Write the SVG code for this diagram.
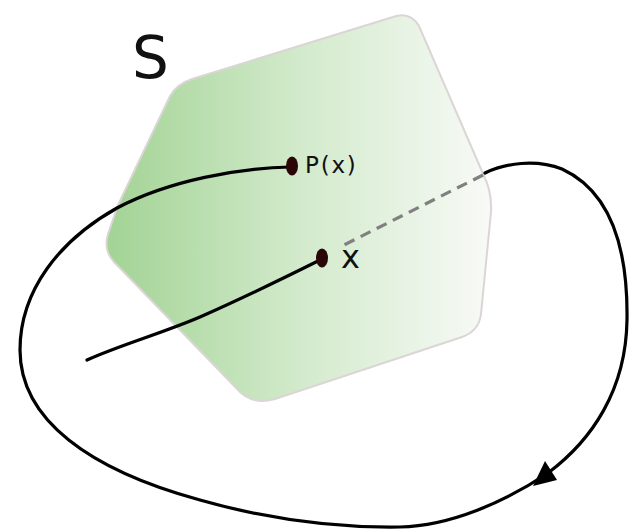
<svg xmlns="http://www.w3.org/2000/svg" width="629" height="532" viewBox="0 0 629 532">
<defs>
<linearGradient id="g" x1="106" y1="0" x2="492" y2="0" gradientUnits="userSpaceOnUse">
<stop offset="0" stop-color="#a2d394"/>
<stop offset="0.5" stop-color="#d2eacb"/>
<stop offset="1" stop-color="#f8faf7"/>
</linearGradient>
<style>
.curve{fill:none;stroke:#000;stroke-width:3.2;stroke-linecap:round}
.dash{fill:none;stroke:#808080;stroke-width:3.2;stroke-dasharray:11 7}
.dot{fill:#2b0606}
.lbl{font-family:"DejaVu Sans","Liberation Sans",sans-serif;fill:#111}
</style>
</defs>
<rect width="629" height="532" fill="#fff"/>
<g id="S">
<path d="M 118 205 L 170 96 Q 177 84 192 79 L 393 17 Q 410 11 419 26 L 484 176 Q 492 192 491 212 L 481 314 Q 479 331 462 337 L 275 399 Q 254 405 240 392 L 114 262 Q 103 250 108 234 Z" fill="url(#g)" stroke="#dcd5d5" stroke-width="2"/>
<text class="lbl" x="132" y="78" font-size="58">S</text>
</g>
<g id="connectors">
<path class="curve" d="M 290 167 C 240 168 170 180 117 208 C 60 240 20 290 20 350 C 20 420 90 470 200 500 C 260 517 330 528 400 527 C 450 526 505 502 548 473 C 592 440 626 390 627 320 C 628 250 612 192 562 169 C 536 159 505 163 485 173"/>
<path class="dash" d="M 483 175 L 340 247"/>
<path class="curve" d="M 320 260 C 280 280 245 297 200 317 C 160 334 120 345 87 360"/>
<polygon points="533,486 545,461 557,480" fill="#000"/>
</g>
<g id="Px">
<ellipse class="dot" cx="292" cy="166" rx="6" ry="9.5"/>
<text class="lbl" x="305" y="173" font-size="23" letter-spacing="1.8">P(x)</text>
</g>
<g id="x">
<ellipse class="dot" cx="322" cy="258" rx="6" ry="9.5"/>
<text class="lbl" x="341" y="268" font-size="32">x</text>
</g>
</svg>
